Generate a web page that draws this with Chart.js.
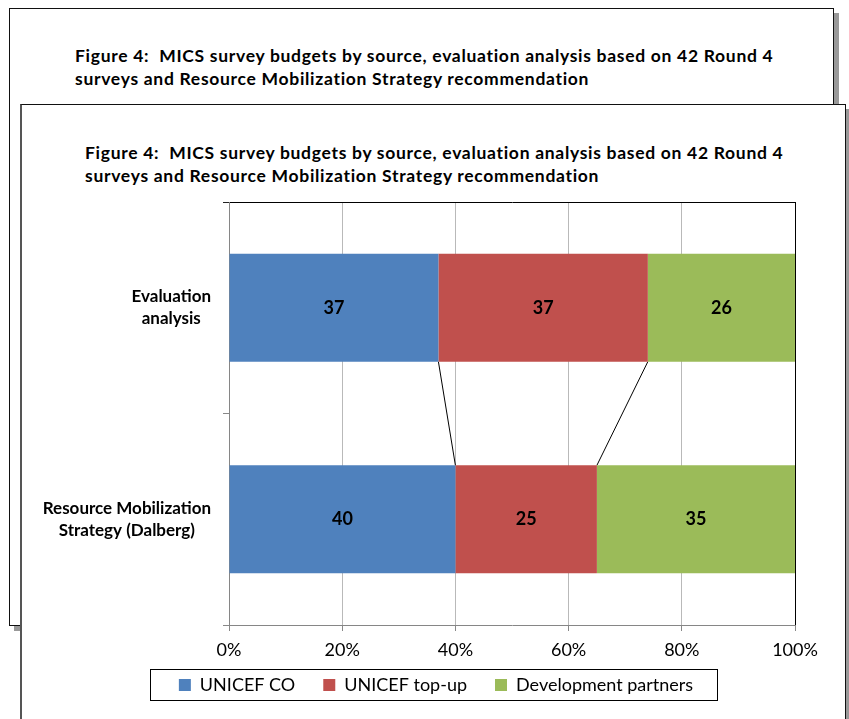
<!DOCTYPE html>
<html>
<head>
<meta charset="utf-8">
<script src="https://cdn.jsdelivr.net/npm/chart.js@4"></script>
<style>
  body { margin: 0; width: 849px; height: 719px; overflow: hidden; background: #fff; font-family: Lato, sans-serif; }
  .sheet { position: absolute; background: #fff; border: 1px solid #111; box-shadow: 5px 5px 0 #999; box-sizing: border-box; }
  #back { left: 9px; top: 8px; width: 825px; height: 618px; }
  #front { left: 20px; top: 104px; width: 826px; height: 700px; border-left: 2px solid #555; }
  .title { position: absolute; font-weight: bold; font-size: 17.5px; letter-spacing: 0.7px; line-height: 23px; color: #000; white-space: nowrap; }
  #back .title { left: 65px; top: 35px; }
  #front .title { left: 63px; top: 36px; }
  #chart { position: absolute; left: 0; top: 0; }
</style>
</head>
<body>
<div class="sheet" id="back">
  <div class="title">Figure 4:&nbsp; MICS survey budgets by source, evaluation analysis based on 42 Round 4<br>surveys and Resource Mobilization Strategy recommendation</div>
</div>
<div class="sheet" id="front">
  <div class="title">Figure 4:&nbsp; MICS survey budgets by source, evaluation analysis based on 42 Round 4<br>surveys and Resource Mobilization Strategy recommendation</div>
</div>
<canvas id="chart" width="849" height="719"></canvas>
<script>
const categories = [["Evaluation", "analysis"], ["Resource Mobilization", "Strategy (Dalberg)"]];
const seriesNames = ["UNICEF CO", "UNICEF top-up", "Development partners"];
const unicefCo = [37, 40];
const unicefTopUp = [37, 25];
const devPartners = [26, 35];
const xTicks = [0, 20, 40, 60, 80, 100];
const colors = ["#4F81BD", "#C0504D", "#9BBB59"];

Chart.defaults.font.family = "Lato";
Chart.defaults.color = "#000";

// series lines, value labels, category labels and legend frame
const barExtras = {
  id: "barExtras",
  afterLayout(chart) {
    // pull the legend up so it sits just under the tick labels
    const lg = chart.legend;
    const shift = lg.top - 648;
    lg.top -= shift;
    lg.bottom -= shift;
  },
  beforeDatasetsDraw(chart) {
    const ctx = chart.ctx;
    ctx.save();
    ctx.strokeStyle = "#000";
    ctx.lineWidth = 1;
    for (let d = 0; d < 2; d++) {
      const bars = chart.getDatasetMeta(d).data;
      ctx.beginPath();
      ctx.moveTo(bars[0].x, bars[0].y + bars[0].height / 2);
      ctx.lineTo(bars[1].x, bars[1].y - bars[1].height / 2);
      ctx.stroke();
    }
    ctx.restore();
  },
  afterDatasetsDraw(chart) {
    const ctx = chart.ctx;
    ctx.save();
    ctx.font = "bold 18px Lato";
    ctx.fillStyle = "#000";
    ctx.textAlign = "center";
    ctx.textBaseline = "middle";
    chart.data.datasets.forEach((ds, d) => {
      chart.getDatasetMeta(d).data.forEach((bar, i) => {
        ctx.fillText(ds.data[i], (bar.x + bar.base) / 2, bar.y);
      });
    });
    ctx.restore();
  },
  afterDraw(chart) {
    const ctx = chart.ctx;
    const y = chart.scales.y;
    ctx.save();
    ctx.font = "bold 17px Lato";
    ctx.fillStyle = "#000";
    ctx.textAlign = "center";
    ctx.textBaseline = "middle";
    categories.forEach((lines, i) => {
      const w = Math.max(...lines.map((l) => ctx.measureText(l).width));
      const cx = y.right - 18 - w / 2;
      const cy = y.getPixelForValue(i);
      lines.forEach((l, j) => ctx.fillText(l, cx, cy + (j - (lines.length - 1) / 2) * 22));
    });

    const boxes = chart.legend.legendHitBoxes;
    const l = Math.min(...boxes.map((b) => b.left));
    const r = Math.max(...boxes.map((b) => b.left + b.width));
    const mid = boxes[0].top + boxes[0].height / 2;
    ctx.strokeStyle = "#000";
    ctx.lineWidth = 1;
    ctx.strokeRect(Math.round(l - 29) + 0.5, Math.round(mid - 16) + 0.5, Math.round(r - l + 53), 31);
    ctx.restore();
  },
};

new Chart(document.getElementById("chart"), {
  type: "bar",
  data: {
    labels: categories,
    datasets: [
      { label: seriesNames[0], data: unicefCo, backgroundColor: colors[0] },
      { label: seriesNames[1], data: unicefTopUp, backgroundColor: colors[1] },
      { label: seriesNames[2], data: devPartners, backgroundColor: colors[2] },
    ],
  },
  options: {
    indexAxis: "y",
    responsive: false,
    animation: false,
    borderWidth: 0,
    barPercentage: 1,
    categoryPercentage: 0.51,
    layout: {
      padding: { left: 77, right: 54, top: 202, bottom: 2 },
    },
    plugins: {
      legend: {
        position: "bottom",
        labels: {
          boxWidth: 12,
          boxHeight: 12,
          padding: 28,
          font: { size: 18 },
          color: "#000",
        },
      },
      tooltip: { enabled: false },
    },
    scales: {
      x: {
        stacked: true,
        min: 0,
        max: 100,
        afterBuildTicks: (s) => {
          s.ticks = xTicks.map((v) => ({ value: v }));
        },
        afterFit: (s) => {
          s.height = 36;
        },
        ticks: {
          callback: (v) => v + "%",
          font: { size: 18 },
          color: "#000",
          padding: 8,
          maxRotation: 0,
        },
        grid: {
          color: (c) => (c.tick && c.tick.value === 100 ? "#000" : "#b9b9b9"),
          tickColor: "#888",
          tickLength: 6,
        },
        border: { color: "#868686" },
      },
      y: {
        stacked: true,
        afterFit: (s) => {
          s.width = 152;
        },
        ticks: {
          callback: () => "",
        },
        grid: {
          color: (c) => (c.index === 0 ? "#000" : "rgba(0,0,0,0)"),
          tickColor: (c) => (c.index === 0 ? "#222" : "#888"),
          tickLength: 6,
        },
        border: { color: "#868686" },
      },
    },
  },
  plugins: [barExtras],
});
</script>
</body>
</html>
